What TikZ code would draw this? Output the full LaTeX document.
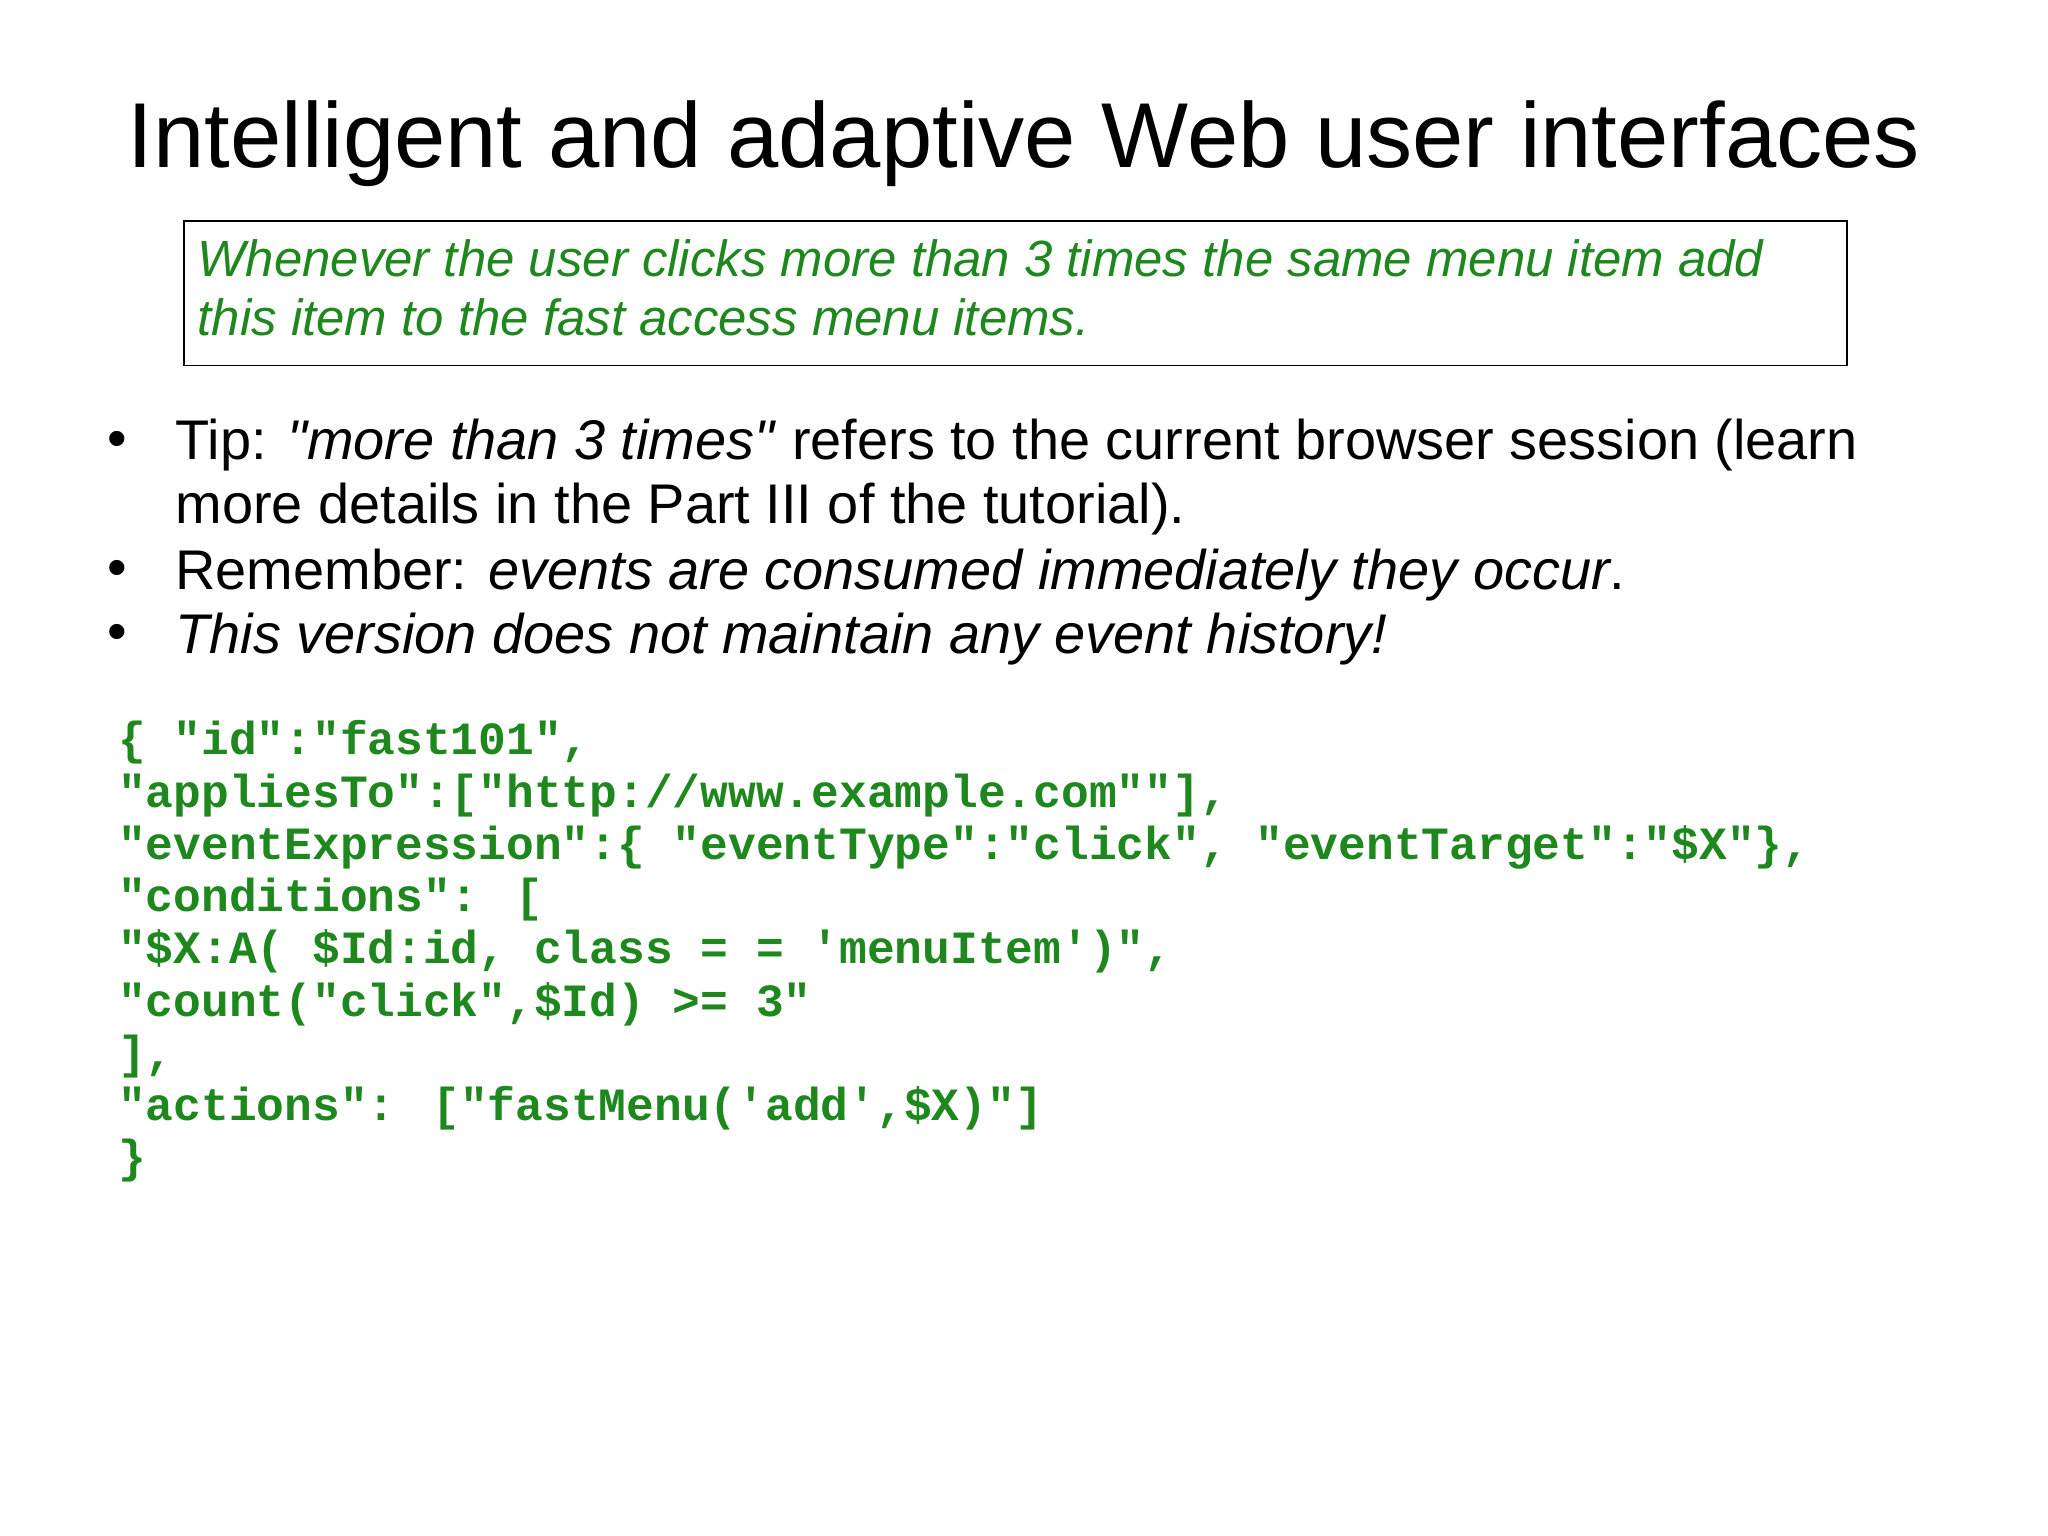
\documentclass[tikz,border=0pt]{standalone}
\usepackage{fontspec}
\setmainfont{Liberation Sans}
\newfontfamily\codefont{Liberation Mono}
\definecolor{cgreen}{RGB}{30,135,30}
\begin{document}
\begin{tikzpicture}[x=0.5pt,y=-0.5pt,
  bul/.style={anchor=base west,inner sep=0,font=\fontsize{21.4}{24.5}\selectfont},
  rl/.style={anchor=base west,inner sep=0,text=cgreen,font=\itshape\fontsize{19.5}{22.5}\selectfont},
  code/.style={anchor=base west,inner sep=0,text=cgreen,font=\codefont\bfseries\fontsize{17.7}{20}\selectfont}]
\useasboundingbox (0,0) rectangle (1568,1176);
\node[anchor=base,inner sep=0,font=\fontsize{35.3}{40}\selectfont] (title) at (784,128) {Intelligent and adaptive Web user interfaces};
\draw[line width=0.6pt] (141,169) rectangle (1414,280);
\node[rl] (r1) at (151,212) {Whenever the user clicks more than 3 times the same menu item add};
\node[rl] (r2) at (151,257) {this item to the fast access menu items.};
\node[bul] (b1) at (82,350) {•};
\node[bul] (t1) at (134,352) {Tip: \textit{\textquotedbl more than 3 times\textquotedbl} refers to the current browser session (learn};
\node[bul] (t1b) at (134,401) {more details in the Part III of the tutorial).};
\node[bul] (b2) at (82,449) {•};
\node[bul] (t2) at (134,451) {Remember: \textit{events are consumed immediately they occur}.};
\node[bul] (b3) at (82,498) {•};
\node[bul] (t3) at (134,500) {\textit{This version does not maintain any event history!}};
\foreach \y/\t in {578/{\{ "id":"fast101",},
  618/{"appliesTo":["http://www.example.com""],},
  658/{"eventExpression":\{ "eventType":"click", "eventTarget":"\$X"\},},
  698/{"conditions": [},
  738/{"\$X:A( \$Id:id, class = = 'menuItem')",},
  778/{"count("click",\$Id) >= 3"},
  818/{],},
  858/{"actions": ["fastMenu('add',\$X)"]},
  898/{\}}}
  \node[code] at (90,\y) {\t};
\end{tikzpicture}
\end{document}
